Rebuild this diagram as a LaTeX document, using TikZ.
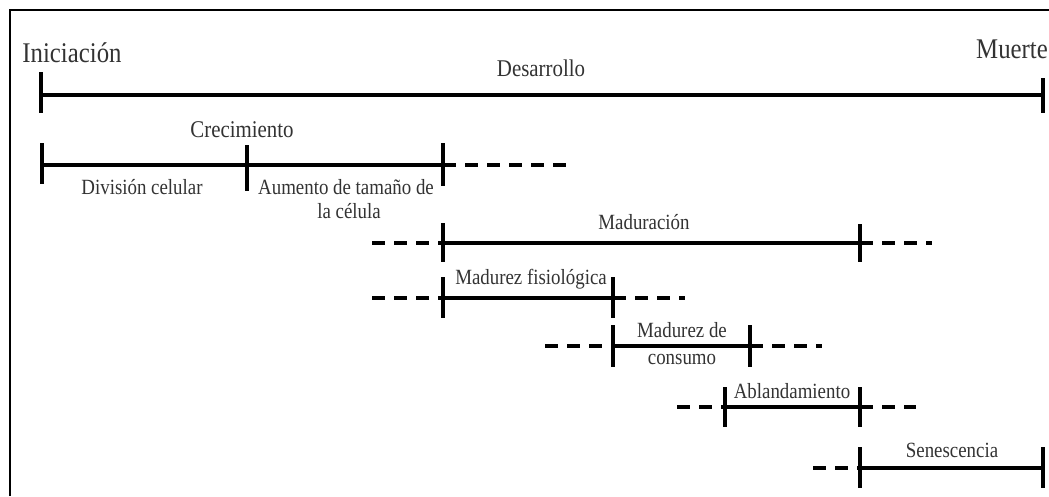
\documentclass[tikz,border=0pt]{standalone}
\usepackage{fontspec}
\setmainfont{Liberation Serif}[FakeStretch=0.87]
\begin{document}
\begin{tikzpicture}[x=1pt,y=-1pt,
  big/.style={inner sep=0pt,anchor=base,text=black!80,font=\fontsize{28.5}{30}\selectfont},
  mid/.style={inner sep=0pt,anchor=base,text=black!80,font=\fontsize{24}{26}\selectfont},
  small/.style={inner sep=0pt,anchor=base,text=black!80,font=\fontsize{21.7}{23}\selectfont},
  span/.style={line width=3.2pt},
  mainspan/.style={line width=4.2pt},
  tick/.style={line width=3.4pt},
  dashline/.style={line width=3.4pt,dash pattern=on 13pt off 9pt}]
\useasboundingbox (0,0) rectangle (1049,496);
\fill[white] (0,0) rectangle (1049,496);
% frame
\coordinate (fl) at (10,496);
\coordinate (fc) at (10,10);
\coordinate (fr) at (1049,10);
\draw[line width=2.6pt] (fl) -- (fc) -- (fr);

% main line
\coordinate (i) at (41,95);
\coordinate (m) at (1043,95);
\draw[mainspan] (i) -- (m);
\draw[tick] (41,72) -- (41,113);
\draw[tick] (1043,78) -- (1043,113);
\node[big] (ini) at (72,62) {Iniciación};
\node[mid] (des) at (541,76) {Desarrollo};
\node[big,anchor=base west] (mue) at (976,58) {Muerte};

% Crecimiento
\coordinate (c0) at (42,165);
\coordinate (c1) at (247,165);
\coordinate (c2) at (443,165);
\coordinate (c3) at (570,165);
\draw[span] (c0) -- (c2);
\draw[dashline] (c2) -- (c3);
\draw[tick] (42,143) -- (42,184);
\draw[tick] (247,145) -- (247,191);
\draw[tick] (443,143) -- (443,186);
\node[mid] (cre) at (242,137) {Crecimiento};
\node[small] (div) at (142,194) {División celular};
\node[small] (aum) at (346,194) {Aumento de tamaño de};
\node[small] (cel) at (349,218) {la célula};

% Maduracion
\coordinate (ma0) at (372,243);
\coordinate (ma1) at (443,243);
\coordinate (ma2) at (860,243);
\coordinate (ma3) at (932,243);
\draw[dashline] (ma0) -- (ma1);
\draw[span] (ma1) -- (ma2);
\draw[dashline] (ma2) -- (ma3);
\draw[tick] (443,223) -- (443,262);
\draw[tick] (860,224) -- (860,262);
\node[small] (mad) at (644,229) {Maduración};

% Madurez fisiologica
\coordinate (mf0) at (372,298);
\coordinate (mf1) at (443,298);
\coordinate (mf2) at (613,298);
\coordinate (mf3) at (685,298);
\draw[dashline] (mf0) -- (mf1);
\draw[span] (mf1) -- (mf2);
\draw[dashline] (mf2) -- (mf3);
\draw[tick] (443,277) -- (443,318);
\draw[tick] (613,277) -- (613,318);
\node[small] (fis) at (531,284) {Madurez fisiológica};

% Madurez de consumo
\coordinate (mc0) at (545,346);
\coordinate (mc1) at (613,346);
\coordinate (mc2) at (750,346);
\coordinate (mc3) at (822,346);
\draw[dashline] (mc0) -- (mc1);
\draw[span] (mc1) -- (mc2);
\draw[dashline] (mc2) -- (mc3);
\draw[tick] (613,325) -- (613,367);
\draw[tick] (750,325) -- (750,367);
\node[small] (con1) at (682,337) {Madurez de};
\node[small] (con2) at (682,364) {consumo};

% Ablandamiento
\coordinate (ab0) at (677,407);
\coordinate (ab1) at (725,407);
\coordinate (ab2) at (860,407);
\coordinate (ab3) at (916,407);
\draw[dashline] (ab0) -- (ab1);
\draw[span] (ab1) -- (ab2);
\draw[dashline] (ab2) -- (ab3);
\draw[tick] (725,387) -- (725,427);
\draw[tick] (860,387) -- (860,427);
\node[small] (abl) at (792,398) {Ablandamiento};

% Senescencia
\coordinate (se0) at (813,468);
\coordinate (se1) at (860,468);
\coordinate (se2) at (1043,468);
\draw[dashline] (se0) -- (se1);
\draw[span] (se1) -- (se2);
\draw[tick] (860,447) -- (860,488);
\draw[tick] (1043,447) -- (1043,488);
\node[small] (sen) at (952,457) {Senescencia};
\end{tikzpicture}
\end{document}
